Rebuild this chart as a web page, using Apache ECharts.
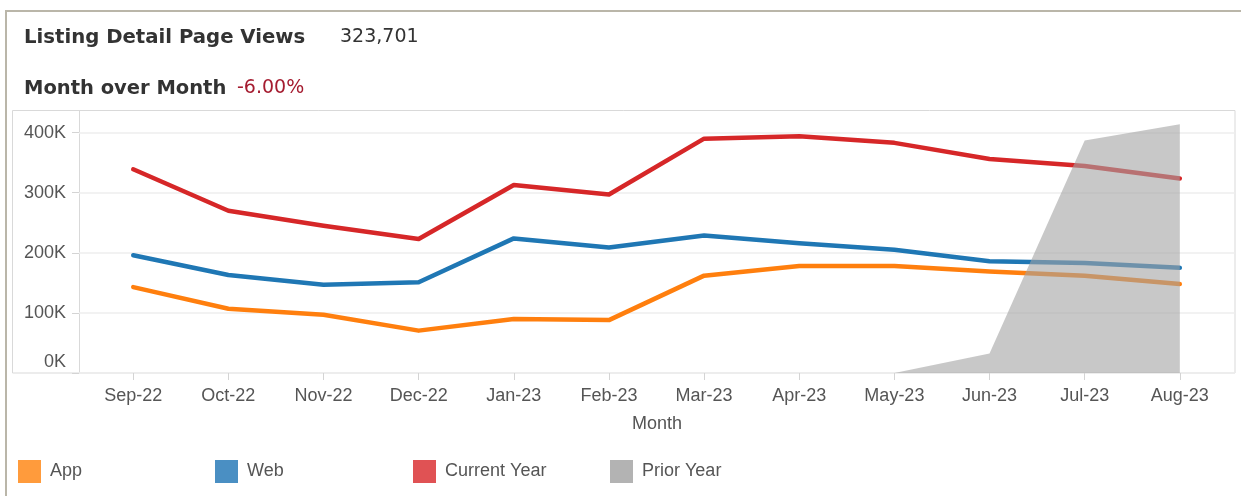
<!DOCTYPE html>
<html>
<head>
<meta charset="utf-8">
<title>Listing Detail Page Views</title>
<script src="https://cdn.jsdelivr.net/npm/echarts@6/dist/echarts.min.js"></script>
<style>
    html, body { margin: 0; padding: 0; background: #fff; }
    #main { width: 1241px; height: 496px; }
</style>
</head>
<body>
<div id="main"></div>
<script>
// 数据
var months = ['Sep-22', 'Oct-22', 'Nov-22', 'Dec-22', 'Jan-23', 'Feb-23', 'Mar-23', 'Apr-23', 'May-23', 'Jun-23', 'Jul-23', 'Aug-23'];
var appViews = [143000, 107000, 97000, 70500, 90000, 88000, 162000, 178000, 178000, 169000, 162000, 148000];
var webViews = [196000, 163000, 147000, 151000, 224000, 209000, 229000, 216000, 205000, 186000, 183000, 175000];
var currentYear = [339000, 270000, 245000, 223000, 313000, 297000, 390000, 394000, 383000, 356000, 344363, 323701];
var priorYear = [null, null, null, null, null, null, null, null, 0, 32500, 387000, 414000];
var yTicks = [0, 100000, 200000, 300000, 400000];

var axisFont = 'Liberation Sans, Arial, sans-serif';
var headFont = 'DejaVu Sans, Verdana, sans-serif';

function pairs(arr) {
    var out = [];
    for (var i = 0; i < arr.length; i++) {
        out.push([i, arr[i]]);
    }
    return out;
}

function monthIdx() {
    var out = [];
    for (var i = 0; i < months.length; i++) out.push(i);
    return out;
}

// 标题里的数字
var last = currentYear[currentYear.length - 1];
var prev = currentYear[currentYear.length - 2];
var totalText = last.toLocaleString('en-US');
var momText = ((last / prev - 1) * 100).toFixed(2) + '%';

function lineSeries(name, data, color) {
    return {
        name: name,
        type: 'line',
        data: pairs(data),
        showSymbol: false,
        silent: true,
        z: 2,
        lineStyle: { color: color, width: 4.5, cap: 'round', join: 'round' },
        itemStyle: { color: color }
    };
}

function legendAt(left, name, color) {
    return {
        left: left,
        top: 460,
        padding: 0,
        icon: 'rect',
        itemWidth: 23,
        itemHeight: 23,
        selectedMode: false,
        textStyle: { fontFamily: axisFont, fontSize: 18, color: '#555', padding: [0, 0, 0, 4] },
        data: [{ name: name, itemStyle: { color: color, opacity: 1, borderWidth: 0 } }]
    };
}

var myChart = echarts.init(document.getElementById('main'));

var option = {
    animation: false,
    backgroundColor: '#fff',
    grid: { left: 79, right: 6, top: 110, bottom: 123 },
    xAxis: {
        type: 'value',
        min: -0.57,
        max: 11.58,
        name: 'Month',
        nameLocation: 'middle',
        nameGap: 42,
        nameTextStyle: { fontFamily: axisFont, fontSize: 18, color: '#555' },
        axisLine: { show: false, onZero: false },
        axisTick: { show: true, customValues: monthIdx(), length: 7, lineStyle: { color: '#d4d4d4' } },
        axisLabel: {
            customValues: monthIdx(),
            margin: 14,
            fontFamily: axisFont,
            fontSize: 18,
            color: '#555',
            formatter: function (v) { return months[Math.round(v)]; }
        },
        splitLine: { show: false }
    },
    yAxis: {
        type: 'value',
        min: 0,
        max: 437700,
        axisLine: { show: false, onZero: false },
        axisTick: { show: true, customValues: yTicks, length: 7, lineStyle: { color: '#d4d4d4' } },
        axisLabel: {
            customValues: yTicks,
            margin: 13,
            fontFamily: axisFont,
            fontSize: 18,
            color: '#555',
            formatter: function (v) {
                if (v === 0) return '{z|0K}';
                return (v / 1000) + 'K';
            },
            rich: {
                z: { fontFamily: axisFont, fontSize: 18, color: '#555', padding: [0, 0, 21, 0] }
            }
        },
        splitLine: { show: true, lineStyle: { color: '#eeeeee', width: 1.5 } }
    },
    legend: [
        legendAt(18, 'App', '#ff9b3c'),
        legendAt(215, 'Web', '#4a8fc3'),
        legendAt(413, 'Current Year', '#e05254'),
        legendAt(610, 'Prior Year', '#b3b3b3')
    ],
    graphic: [
        // 外框
        { type: 'line', z: -1, shape: { x1: 5, y1: 11, x2: 1241, y2: 11 }, style: { stroke: '#bab6a9', lineWidth: 2 } },
        { type: 'line', z: -1, shape: { x1: 6, y1: 10, x2: 6, y2: 496 }, style: { stroke: '#bab6a9', lineWidth: 2 } },
        // 图表框
        { type: 'rect', z: -1, shape: { x: 12.5, y: 110.5, width: 1222.5, height: 262.5 }, style: { fill: null, stroke: '#d9d9d9', lineWidth: 1 } },
        { type: 'line', z: -1, shape: { x1: 79.5, y1: 110, x2: 79.5, y2: 373 }, style: { stroke: '#d9d9d9', lineWidth: 1 } },
        // 标题
        { type: 'text', x: 24, y: 38, style: { text: 'Listing Detail Page Views', font: 'bold 19.7px ' + headFont, fill: '#333', verticalAlign: 'middle' } },
        { type: 'text', x: 340, y: 37, style: { text: totalText, font: '19px ' + headFont, fill: '#333', verticalAlign: 'middle' } },
        { type: 'text', x: 24, y: 89, style: { text: 'Month over Month', font: 'bold 19.5px ' + headFont, fill: '#333', verticalAlign: 'middle' } },
        { type: 'text', x: 237, y: 88, style: { text: momText, font: '19px ' + headFont, fill: '#a51c30', verticalAlign: 'middle' } }
    ],
    series: [
        lineSeries('App', appViews, '#ff7f0e'),
        lineSeries('Web', webViews, '#1f77b4'),
        lineSeries('Current Year', currentYear, '#d62728'),
        {
            name: 'Prior Year',
            type: 'line',
            data: pairs(priorYear),
            showSymbol: false,
            silent: true,
            z: 3,
            lineStyle: { width: 0, opacity: 0 },
            itemStyle: { color: '#b3b3b3' },
            areaStyle: { color: '#a3a3a3', opacity: 0.6 }
        }
    ]
};

myChart.setOption(option);
</script>
</body>
</html>
